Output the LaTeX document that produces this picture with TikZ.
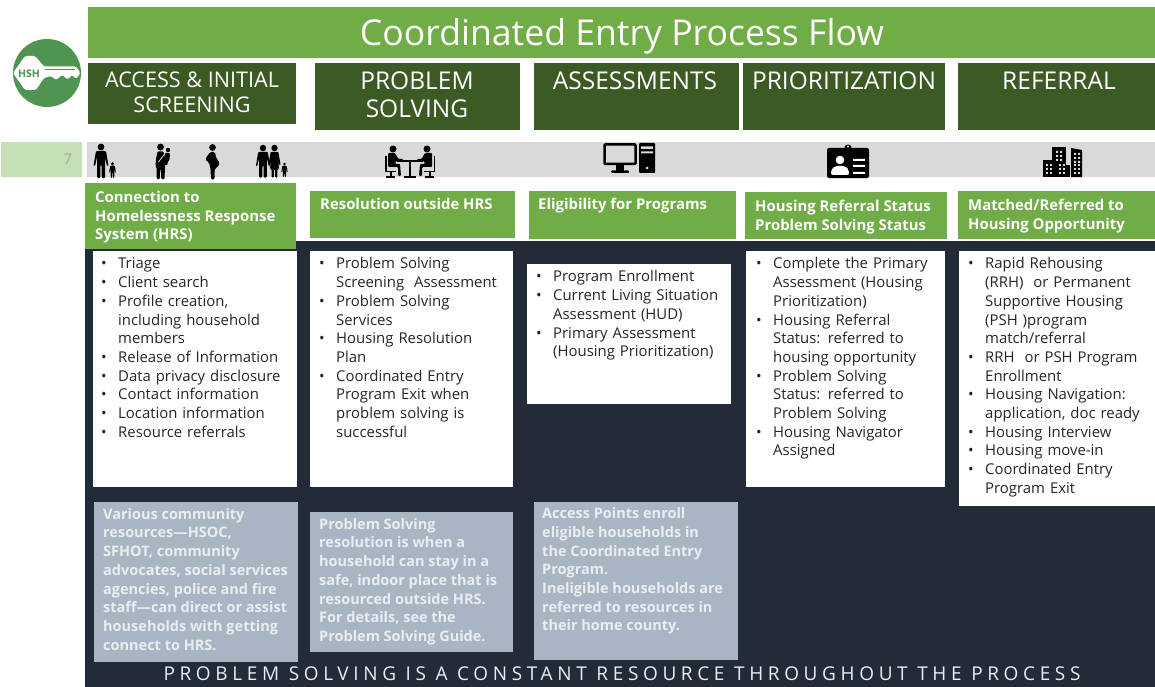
\documentclass[tikz,border=0pt]{standalone}
\usepackage{fontspec}
\setmainfont{Open Sans}
\usepackage{tikz}
\usetikzlibrary{positioning}
\definecolor{grn}{HTML}{70AD47}
\definecolor{dkgrn}{HTML}{3C5A24}
\definecolor{ltgrn}{HTML}{C5E0B4}
\definecolor{band}{HTML}{D9D9D9}
\definecolor{navy}{HTML}{222B38}
\definecolor{slate}{HTML}{A9B5C3}
\definecolor{logogrn}{HTML}{4F9450}
\definecolor{pale}{HTML}{E9EDF0}
\newcommand{\itm}[1]{\par\hangindent=17pt\hangafter=1\noindent\hbox to 17pt{\textbullet\hfil}#1\par}
\begin{document}
\begin{tikzpicture}[x=1pt, y=-1pt,
  box/.style = {anchor=north west, inner sep=0pt, outer sep=0pt},
  title/.style = {box, fill=grn},
  phase/.style = {box, fill=dkgrn},
  sub/.style = {box, fill=grn},
  body/.style = {box, fill=white},
  note/.style = {box, fill=slate},
  phasetext/.style = {anchor=north, align=center, inner sep=0pt, text=white, font=\fontsize{24.5}{28}\selectfont},
  subtext/.style = {anchor=north west, align=left, inner sep=0pt, text=white, font=\bfseries\fontsize{14.9}{18.6}\selectfont},
  bodytext/.style = {anchor=north west, align=left, inner sep=0pt, text=black!85, text width=190pt, font=\fontsize{14.9}{18.7}\selectfont},
  notetext/.style = {anchor=north west, align=left, inner sep=0pt, text=pale, font=\bfseries\fontsize{14.5}{18.7}\selectfont},
  adult/.pic = {
    \fill (0,-31) circle (3.4);
    \fill[rounded corners=1pt] (-5,-27) -- (5,-27) -- (7.5,-12) -- (6,-12) -- (4,-21) -- (4,0) -- (.7,0) -- (.5,-13) -- (-.5,-13) -- (-.7,0) -- (-4,0) -- (-4,-21) -- (-6,-12) -- (-7.5,-12) -- cycle;
  },
  woman/.pic = {
    \fill (0,-31) circle (3.4);
    \fill[rounded corners=1pt] (-4,-27) -- (4,-27) -- (6.5,-13) -- (5,-13) -- (3.5,-18) -- (5,-9) -- (3,-9) -- (3,0) -- (.6,0) -- (.6,-9) -- (-.6,-9) -- (-.6,0) -- (-3,0) -- (-3,-9) -- (-5,-9) -- (-3.5,-18) -- (-5,-13) -- (-6.5,-13) -- cycle;
  },
  mother/.pic = {
    \fill (0,-32) circle (3.4);
    \fill[rounded corners=1pt] (-3,-27.5) -- (3,-27.5) -- (5,-18) -- (4.5,-13) -- (4,0) -- (.7,0) -- (.4,-10) -- (-.4,-10) -- (-.7,0) -- (-4,0) -- (-4,-12) -- (-5,-13) -- (-4.5,-20) -- cycle;
    \fill (7.5,-29) circle (2.2);
    \fill[rounded corners=1pt] (4.5,-26) -- (9.5,-26) -- (9,-19) -- (7,-17) -- (7,-14) -- (3,-14) -- cycle;
    \draw[band, line width=.8pt] (-2,-17) -- (4,-25);
  },
  expecting/.pic = {
    \fill (0,-32) circle (3.4);
    \fill[rounded corners=1.5pt] (-2.5,-27.5) -- (2.5,-27.5) -- (3.5,-22) -- (7,-17) -- (6,-13) -- (2.3,-11) -- (2,0) -- (-1.5,0) -- (-2,-11) -- (-3.5,-17) -- (-7.5,-20) -- cycle;
  },
  seated/.pic = {
    \fill (0,-20) circle (3.5);
    \fill[rounded corners=1pt] (-5,-16) -- (2,-16) -- (5.5,-10) -- (10,-10) -- (10,-8) -- (3,-8) -- (2,-5) -- (7,-5) -- (8,7) -- (5,7) -- (5,-2) -- (-5,-2) -- cycle;
    \fill (-8,-13) rectangle (-6.5,3);
    \fill (-8,2) rectangle (3,3.5);
    \fill (-3.5,3) rectangle (-1.5,7);
    \fill (-7,7) rectangle (2,8.5);
  },
]
\useasboundingbox (0,0) rectangle (1155,687);

\node[fill=navy, box, minimum width=1070pt, minimum height=446pt] (back) at (85,241) {};
\draw[blue!45!navy, line width=.8pt] (back.north west) -- (back.south west);

\node[title, minimum width=1067pt, minimum height=51pt] (head) at (88,7) {};
\node[text=white, font=\fontsize{35.6}{40}\selectfont] (headt) at (622,36) {Coordinated Entry Process Flow};

% logo
\node[circle, fill=logogrn, minimum size=68pt, inner sep=0pt] (logo) at (47,73) {};
\fill[white, rounded corners=1.5pt] (13,73) -- (25,56) -- (35,56) -- (44,66.5) -- (76,66.5) -- (80.5,73) -- (76,79) -- (72,75) -- (68,79.5) -- (62,75) -- (56,80) -- (51,76) -- (44,78) -- (36,90) -- (25,90) -- cycle;
\draw[logogrn, line width=.7pt] (45,69) -- (75,69);
\node[text=logogrn, font=\bfseries\fontsize{10.5}{12}\selectfont] (logot) at (29,73.5) {HSH};

% phases
\node[phase, minimum width=208pt, minimum height=61pt] (acc) at (88,63) {};
\node[phase, minimum width=205pt, minimum height=67pt] (sol) at (315,63) {};
\node[phase, minimum width=205pt, minimum height=67pt] (ass) at (534,63) {};
\node[phase, minimum width=202pt, minimum height=67pt] (pri) at (743,63) {};
\node[phase, minimum width=197pt, minimum height=67pt] (ref) at (958,63) {};
\node[phasetext, font=\fontsize{21.6}{25}\selectfont] (acct) at (192,72) {ACCESS \& INITIAL\\SCREENING};
\node[phasetext] (solt) at (417,72) {PROBLEM\\SOLVING};
\node[phasetext] (asst) at (635,72) {ASSESSMENTS};
\node[phasetext] (prit) at (844,72) {PRIORITIZATION};
\node[phasetext] (reft) at (1059,72) {REFERRAL};

% band
\node[box, fill=ltgrn, minimum width=81pt, minimum height=35pt] (pg) at (1,142) {};
\node[text=black!35, font=\fontsize{15}{18}\selectfont] (pgt) at (68,159) {7};
\node[box, fill=band, minimum width=1068pt, minimum height=35pt] (strip) at (87,142) {};

% people
\pic at (101,178) {adult};
\pic[scale=.46] at (112.5,178) {adult};
\pic at (160.5,179) {mother};
\pic at (212.5,179.5) {expecting};
\pic[scale=.95] at (263,177.5) {adult};
\pic[scale=.95] at (274.5,177.5) {woman};
\pic[scale=.42] at (284.5,177) {adult};

% meeting
\pic at (393,169) {seated};
\pic[xscale=-1] at (427,169) {seated};
\draw[line width=1.6pt] (397,161) -- (423,161);
\draw[line width=2.4pt] (410,161) -- (410,177);
\draw[line width=2pt] (404,177) -- (416,177);

% computer
\draw[line width=2.5pt, rounded corners=1pt] (604.5,144.5) rectangle (635.5,164);
\fill (616,165) rectangle (624,171);
\fill[rounded corners=1pt] (611,170.5) rectangle (629,173);
\fill[rounded corners=1pt] (639,143) rectangle (655,173);
\fill[band] (641,146.5) rectangle (653,149) (641,151.5) rectangle (653,153.5);
\fill[band] (647,168) circle (1.5);

% badge
\fill[rounded corners=2pt] (827,148) rectangle (869,178);
\fill (848,148) circle (3.5);
\fill[band] (848,146.5) circle (1.2);
\fill[white] (840,160) circle (4.3);
\fill[white, rounded corners=2pt] (831,175) -- (831,170) -- (835,166) -- (845,166) -- (849,170) -- (849,175) -- cycle;
\fill[white] (853,159) rectangle (865,161) (853,165) rectangle (865,167) (853,172) rectangle (865,174);

% buildings
\fill (1043,160) rectangle (1053,177);
\fill (1052,147) rectangle (1066,177);
\fill (1056,165) rectangle (1070,177);
\fill (1071,148) -- (1082,150) -- (1082,177) -- (1071,177) -- cycle;
\foreach \xa in {1046,1050,1059,1063,1074,1078}
  \foreach \ya in {167,171,175}
    \fill[band] (\xa,\ya-1) rectangle ++(2,-2);
\foreach \ya in {151,155,159}
  \fill[band] (1056,\ya) rectangle ++(2,2) (1060,\ya) rectangle ++(2,2);
\foreach \ya in {153,157,161}
  \fill[band] (1074,\ya) rectangle ++(2,2) (1078,\ya) rectangle ++(2,2);

% sub headers
\node[sub, minimum width=211pt, minimum height=66pt] (con) at (85,183) {};
\node[sub, minimum width=205pt, minimum height=47pt] (res) at (310,191) {};
\node[sub, minimum width=207pt, minimum height=48pt] (eli) at (529,191) {};
\node[sub, minimum width=202pt, minimum height=47pt] (sta) at (745,192) {};
\node[sub, minimum width=197pt, minimum height=48pt] (mat) at (958,191) {};
\node[subtext] (cont) at (95,191) {Connection to\\Homelessness Response\\System (HRS)};
\node[subtext] (rest) at (320,198) {Resolution outside HRS};
\node[subtext] (elit) at (538,198) {Eligibility for Programs};
\node[subtext] (stat) at (755,200) {Housing Referral Status\\Problem Solving Status};
\node[subtext] (matt) at (968,199) {Matched/Referred to\\Housing Opportunity};

% white panels
\node[body, minimum width=204pt, minimum height=236pt] (b1) at (93,251) {};
\node[body, minimum width=203pt, minimum height=236pt] (b2) at (310,251) {};
\node[body, minimum width=204pt, minimum height=140pt] (b3) at (527,264) {};
\node[body, minimum width=199pt, minimum height=236pt] (b4) at (746,251) {};
\node[body, minimum width=196pt, minimum height=255pt] (b5) at (959,251) {};

\node[bodytext] (b1t) at (101,250) {\itm{Triage}\itm{Client search}\itm{Profile creation,\newline including household\newline members}\itm{Release of Information}\itm{Data privacy disclosure}\itm{Contact information}\itm{Location information}\itm{Resource referrals}};
\node[bodytext] (b2t) at (319,250) {\itm{Problem Solving\newline Screening\ \ Assessment}\itm{Problem Solving\newline Services}\itm{Housing Resolution\newline Plan}\itm{Coordinated Entry\newline Program Exit when\newline problem solving is\newline successful}};
\node[bodytext] (b3t) at (536,263) {\itm{Program Enrollment}\itm{Current Living Situation\newline Assessment (HUD)}\itm{Primary Assessment\newline (Housing Prioritization)}};
\node[bodytext] (b4t) at (756,250) {\itm{Complete the Primary\newline Assessment (Housing\newline Prioritization)}\itm{Housing Referral\newline Status: referred to\newline housing opportunity}\itm{Problem Solving\newline Status: referred to\newline Problem Solving}\itm{Housing Navigator\newline Assigned}};
\node[bodytext] (b5t) at (968,250) {\itm{Rapid Rehousing\newline (RRH)\ \ or Permanent\newline Supportive Housing\newline (PSH )program\newline match/referral}\itm{RRH\ \ or PSH Program\newline Enrollment}\itm{Housing Navigation:\newline application, doc ready}\itm{Housing Interview}\itm{Housing move-in}\itm{Coordinated Entry\newline Program Exit}};

% notes
\node[note, minimum width=204pt, minimum height=160pt] (n1) at (94,502) {};
\node[note, minimum width=203pt, minimum height=140pt] (n2) at (310,512) {};
\node[note, minimum width=204pt, minimum height=158pt] (n3) at (534,502) {};
\node[notetext] (n1t) at (103,508) {Various community\\resources---HSOC,\\SFHOT, community\\advocates, social services\\agencies, police and fire\\staff---can direct or assist\\households with getting\\connect to HRS.};
\node[notetext] (n2t) at (319,518) {Problem Solving\\resolution is when a\\household can stay in a\\safe, indoor place that is\\resourced outside HRS.\\For details, see the\\Problem Solving Guide.};
\node[notetext] (n3t) at (542,507.5) {Access Points enroll\\eligible households in\\the Coordinated Entry\\Program.\\Ineligible households are\\referred to resources in\\their home county.};

\node[text=pale, font=\fontsize{19}{20}\selectfont\addfontfeature{LetterSpace=24.4}] (foot) at (622,674) {PROBLEM SOLVING IS A CONSTANT RESOURCE THROUGHOUT THE PROCESS};
\end{tikzpicture}
\end{document}
